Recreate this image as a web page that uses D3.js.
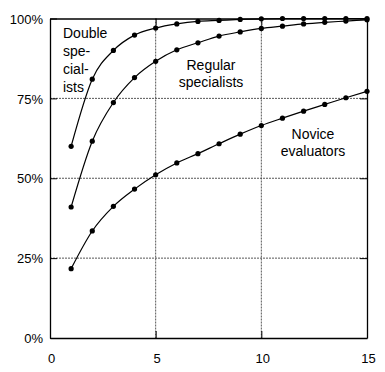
<!DOCTYPE html>
<html>
<head>
<meta charset="utf-8">
<script src="https://cdn.jsdelivr.net/npm/d3@7"></script>
<style>
  body { margin: 0; background: #fff; }
  svg { display: block; font-family: "Liberation Sans", Arial, sans-serif; }
  .grid line { stroke: #444; stroke-width: 0.9; stroke-dasharray: 2,1; }
  .curve { fill: none; stroke: #000; stroke-width: 1.2; }
  .lbl { font-size: 14px; fill: #000; }
  .tick text { font-size: 13px; fill: #000; }
</style>
</head>
<body>
<div id="chart"></div>
<script>
// number of evaluators on the x axis
const evaluators = [1, 2, 3, 4, 5, 6, 7, 8, 9, 10, 11, 12, 13, 14, 15];
// share of usability problems found (%)
const doubleSpecialists = [60, 81, 90, 94.8, 97, 98.3, 99.1, 99.4, 99.7, 99.9, 100, 100, 100, 100, 100];
const regularSpecialists = [41, 61.6, 73.7, 81.5, 86.6, 90.2, 92.4, 94.5, 95.8, 96.9, 97.6, 98.3, 98.8, 99.2, 99.6];
const noviceEvaluators = [21.7, 33.5, 41.2, 46.6, 51.1, 54.8, 57.7, 60.8, 63.8, 66.5, 68.8, 71, 73.1, 75.2, 77.2];
const xTicks = [0, 5, 10, 15];
const yTicks = [0, 25, 50, 75, 100];

const W = 385, H = 372;
const margin = { top: 18.5, right: 18, bottom: 34, left: 50 };
const width = W - margin.left - margin.right,
	height = H - margin.top - margin.bottom;

const svg = d3.select("#chart").append("svg")
	.attr("width", W)
	.attr("height", H);
const g = svg.append("g")
	.attr("transform", "translate(" + margin.left + "," + margin.top + ")");

const x = d3.scaleLinear().domain([0, 15]).range([0, width]);
const y = d3.scaleLinear().domain([0, 100]).range([height, 0]);

// dotted grid lines inside the box
const grid = g.append("g").attr("class", "grid");
grid.selectAll(".vg")
	.data(xTicks.filter(t => t > 0 && t < 15))
	.enter().append("line")
	.attr("x1", d => x(d)).attr("x2", d => x(d))
	.attr("y1", 0).attr("y2", height);
grid.selectAll(".hg")
	.data(yTicks.filter(t => t > 0 && t < 100))
	.enter().append("line")
	.attr("x1", 0).attr("x2", width)
	.attr("y1", d => y(d)).attr("y2", d => y(d));

// axes with inward ticks
const tickLen = 7;
const xAxis = g.append("g")
	.attr("transform", "translate(0," + height + ")")
	.call(d3.axisBottom(x).tickValues(xTicks).tickSizeInner(-tickLen).tickSizeOuter(0).tickPadding(16));
const yAxis = g.append("g")
	.call(d3.axisLeft(y).tickValues(yTicks).tickFormat(d => d + "%").tickSizeInner(-tickLen).tickSizeOuter(0).tickPadding(7));
g.append("g")
	.call(d3.axisTop(x).tickValues(xTicks).tickSizeInner(-tickLen).tickSizeOuter(0).tickFormat(""));
g.append("g")
	.attr("transform", "translate(" + width + ",0)")
	.call(d3.axisRight(y).tickValues(yTicks).tickSizeInner(-tickLen).tickSizeOuter(0).tickFormat(""));

g.selectAll(".domain").attr("stroke", "#000").attr("stroke-width", 1.3);
g.selectAll(".tick line").attr("stroke", "#000").attr("stroke-width", 1);
xAxis.selectAll("text").attr("dx", "1px");
yAxis.selectAll("text").attr("dy", "0.36em");

// the three curves with their dots
const series = [
	{ name: "double", values: doubleSpecialists },
	{ name: "regular", values: regularSpecialists },
	{ name: "novice", values: noviceEvaluators }
];

const line = d3.line()
	.x(d => x(d[0]))
	.y(d => y(d[1]))
	.curve(d3.curveMonotoneX);

series.forEach(s => {
	const pts = evaluators.map((e, i) => [e, s.values[i]]);
	g.append("path")
		.attr("class", "curve")
		.attr("d", line(pts));
	g.selectAll(".dot-" + s.name)
		.data(pts)
		.enter().append("circle")
		.attr("cx", d => x(d[0]))
		.attr("cy", d => y(d[1]))
		.attr("r", 2.6)
		.attr("fill", "#000");
});

// curve labels
const labels = [
	{ lines: ["Double", "spe-", "cial-", "ists"], x: 13, y: 37.5, anchor: "start", lh: 18 },
	{ lines: ["Regular", "specialists"], x: 161, y: 70, anchor: "middle", lh: 16.5 },
	{ lines: ["Novice", "evaluators"], x: 263, y: 138.5, anchor: "middle", lh: 17.5 }
];
labels.forEach(l => {
	const t = svg.append("text")
		.attr("class", "lbl")
		.attr("text-anchor", l.anchor)
		.attr("transform", "translate(" + (margin.left + l.x) + ",0)");
	l.lines.forEach((s, i) => {
		t.append("tspan").attr("x", 0).attr("y", l.y + i * l.lh).text(s);
	});
});
</script>
</body>
</html>
